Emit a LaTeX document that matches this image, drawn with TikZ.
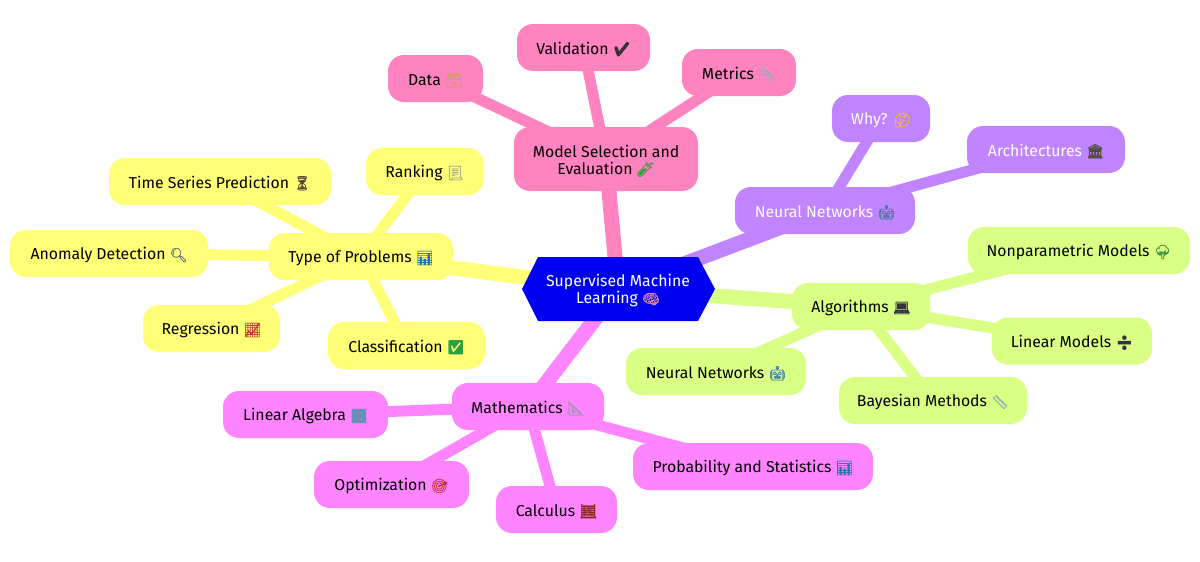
\documentclass[tikz,border=0pt]{standalone}
\usepackage{fontspec}
\setmainfont{Fira Sans}
\newfontfamily\emofont[FakeBold=0.5]{Noto Emoji}
\usetikzlibrary{backgrounds,shapes.misc}
\newcommand{\emo}[2]{\smash{\textcolor[HTML]{#1}{\emofont\fontsize{14}{14}\selectfont #2}}}
\definecolor{cyel}{HTML}{FFFF78}
\definecolor{cpnk}{HTML}{FF83BF}
\definecolor{cpur}{HTML}{C084FF}
\definecolor{cgrn}{HTML}{D9FF84}
\definecolor{cmag}{HTML}{FF84FF}
\definecolor{cblu}{HTML}{0000F0}
\tikzset{
  lbl/.style={inner sep=0pt,font=\fontsize{15.8}{17.5}\selectfont,align=center,execute at begin node={\rule[-3pt]{0pt}{19pt}}},
  mm/.style={lbl,rounded corners=16pt,text=black},
  two/.style={execute at begin node={\rule[-3pt]{0pt}{36pt}}},
  twob/.style={execute at begin node={\rule[-3pt]{0pt}{37pt}}},
  yel/.style={mm,fill=cyel},
  pnk/.style={mm,fill=cpnk},
  pur/.style={mm,fill=cpur,text=white},
  grn/.style={mm,fill=cgrn},
  mag/.style={mm,fill=cmag},
  big/.style={line width=15pt},
  thin edge/.style={line width=11pt},
}
\begin{document}
\begin{tikzpicture}[x=1pt,y=-1pt]
\useasboundingbox (0,0) rectangle (1200,562);
% centre
\coordinate (hl) at (522,289);
\coordinate (hr) at (715,289);
\coordinate (ht1) at (538,257);
\coordinate (ht2) at (698,257);
\coordinate (hb1) at (538,321);
\coordinate (hb2) at (698,321);
\fill[cblu] (hl) -- (ht1) -- (ht2) -- (hr) -- (hb2) -- (hb1) -- cycle;
\node[lbl,two,text=white] (root) at (618,289) {Supervised Machine\\Learning \emo{E58FA0}{🧠}};
% level 1
\node[pnk,twob,minimum width=184pt,minimum height=64pt] (model) at (606,159) {Model Selection and\\Evaluation \emo{2E9E3E}{🧪}};
\node[pur,minimum width=180pt,minimum height=47pt] (nn) at (825,210.5) {Neural Networks \emo{3A7C9C}{🤖}};
\node[grn,minimum width=138pt,minimum height=47pt] (alg) at (861,306.5) {Algorithms \emo{333344}{💻}};
\node[mag,minimum width=152pt,minimum height=47pt] (math) at (528,406.5) {Mathematics \emo{8A9AA8}{📐}};
\node[yel,minimum width=184pt,minimum height=47pt] (type) at (361,256.5) {Type of Problems \emo{2A6FB0}{📊}};
% pink children
\node[pnk,minimum width=95pt,minimum height=47pt] (data) at (435.5,78.5) {Data \emo{C8A070}{🗃}};
\node[pnk,minimum width=133pt,minimum height=47pt] (valid) at (583.5,47.5) {Validation \emo{333333}{✔}};
\node[pnk,minimum width=114pt,minimum height=47pt] (metrics) at (739,72.5) {Metrics \emo{8FB0BC}{📏}};
% purple children
\node[pur,minimum width=98pt,minimum height=47pt] (why) at (881,118.5) {Why? \emo{F5B93A}{🤔}};
\node[pur,minimum width=158pt,minimum height=47pt] (arch) at (1046,149.5) {Architectures \emo{4A4A3A}{🏛}};
% green children
\node[grn,minimum width=222pt,minimum height=47pt] (nonp) at (1079,250.5) {Nonparametric Models \emo{3F8F3A}{🌳}};
\node[grn,minimum width=160pt,minimum height=47pt] (lin) at (1072,341) {Linear Models \emo{333344}{➗}};
\node[grn,minimum width=188pt,minimum height=47pt] (bay) at (933,400.5) {Bayesian Methods \emo{8FB0BC}{📏}};
\node[grn,minimum width=180pt,minimum height=47pt] (nng) at (716,371.5) {Neural Networks \emo{3A7C9C}{🤖}};
% magenta children
\node[mag,minimum width=165pt,minimum height=47pt] (la) at (305.5,414.5) {Linear Algebra \emo{6A8FB8}{🔢}};
\node[mag,minimum width=155pt,minimum height=47pt] (opt) at (391.5,484.5) {Optimization \emo{C8323C}{🎯}};
\node[mag,minimum width=121pt,minimum height=47pt] (calc) at (556.5,509.5) {Calculus \emo{8A2A20}{🧮}};
\node[mag,minimum width=240pt,minimum height=47pt] (prob) at (753,466.5) {Probability and Statistics \emo{2A6FB0}{📊}};
% yellow children
\node[yel,minimum width=222pt,minimum height=47pt] (time) at (220,181.5) {Time Series Prediction \emo{5A4A30}{⏳}};
\node[yel,minimum width=118pt,minimum height=47pt] (rank) at (425,171.5) {Ranking \emo{A0A090}{📃}};
\node[yel,minimum width=198pt,minimum height=47pt] (anom) at (109,253.5) {Anomaly Detection \emo{5A7080}{🔍}};
\node[yel,minimum width=137pt,minimum height=47pt] (reg) at (211.5,328.5) {Regression \emo{C03030}{📈}};
\node[yel,minimum width=157pt,minimum height=47pt] (clas) at (406.5,345.5) {Classification \emo{2EA043}{✅}};
\begin{scope}[on background layer]
\draw[cpnk,big] (root.center) -- (model.center);
\draw[cpur,big] (root.center) -- (nn.center);
\draw[cgrn,big] (root.center) -- (alg.center);
\draw[cmag,big] (root.center) -- (math.center);
\draw[cyel,big] (root.center) -- (type.center);
\draw[cpnk,thin edge] (model.center) -- (data.center);
\draw[cpnk,thin edge] (model.center) -- (valid.center);
\draw[cpnk,thin edge] (model.center) -- (metrics.center);
\draw[cpur,thin edge] (nn.center) -- (why.center);
\draw[cpur,thin edge] (nn.center) -- (arch.center);
\draw[cgrn,thin edge] (alg.center) -- (nonp.center);
\draw[cgrn,thin edge] (alg.center) -- (lin.center);
\draw[cgrn,thin edge] (alg.center) -- (bay.center);
\draw[cgrn,thin edge] (alg.center) -- (nng.center);
\draw[cmag,thin edge] (math.center) -- (la.center);
\draw[cmag,thin edge] (math.center) -- (opt.center);
\draw[cmag,thin edge] (math.center) -- (calc.center);
\draw[cmag,thin edge] (math.center) -- (prob.center);
\draw[cyel,thin edge] (type.center) -- (time.center);
\draw[cyel,thin edge] (type.center) -- (rank.center);
\draw[cyel,thin edge] (type.center) -- (anom.center);
\draw[cyel,thin edge] (type.center) -- (reg.center);
\draw[cyel,thin edge] (type.center) -- (clas.center);
\end{scope}
\end{tikzpicture}
\end{document}
